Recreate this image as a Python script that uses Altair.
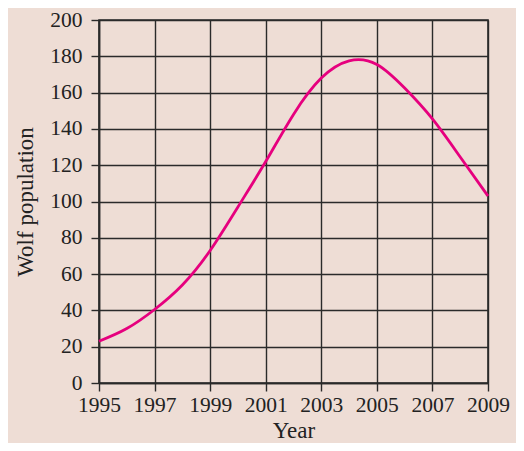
import altair as alt
import pandas as pd

years = [1995, 1996, 1997, 1998, 1999, 2000, 2001, 2002, 2003, 2004, 2005, 2006, 2007, 2008, 2009]
wolves = [23, 30, 40.5, 54, 73, 97, 122, 148, 168, 177.5, 175.5, 162.5, 145.5, 124.5, 103]
x_ticks = [1995, 1997, 1999, 2001, 2003, 2005, 2007, 2009]
y_ticks = [0, 20, 40, 60, 80, 100, 120, 140, 160, 180, 200]

df = pd.DataFrame({"Year": years, "Wolves": wolves})

FONT = "Liberation Serif"
BG = "#eeddd5"
INK = "#2a2a2a"

chart = alt.Chart(df).mark_line(
    color="#e6007e", strokeWidth=2.8, interpolate="natural"
).encode(
    x=alt.X("Year:Q",
            scale=alt.Scale(domain=[1995, 2009], nice=False, zero=False),
            axis=alt.Axis(values=x_ticks, format="d", title="Year",
                          grid=True, gridColor=INK, gridWidth=1.4, gridOpacity=1,
                          tickColor=INK, tickWidth=1.4, tickSize=8,
                          domainColor=INK, domainWidth=1.6,
                          labelFont=FONT, labelFontSize=21.5, labelColor="#222",
                          labelPadding=3, labelFlush=False,
                          titleFont=FONT, titleFontSize=23, titleFontWeight="normal",
                          titleColor="#222", titlePadding=4)),
    y=alt.Y("Wolves:Q",
            scale=alt.Scale(domain=[0, 200], nice=False),
            axis=alt.Axis(values=y_ticks, title="Wolf population",
                          grid=True, gridColor=INK, gridWidth=1.4, gridOpacity=1,
                          tickColor=INK, tickWidth=1.4, tickSize=8,
                          domainColor=INK, domainWidth=1.6,
                          labelFont=FONT, labelFontSize=21.5, labelColor="#222",
                          labelPadding=9, labelFlush=False,
                          titleFont=FONT, titleFontSize=23, titleFontWeight="normal",
                          titleColor="#222", titlePadding=12)),
).properties(
    width=389, height=363,
    autosize=alt.AutoSizeParams(type="none"),
    padding={"left": 91, "top": 12, "right": 28, "bottom": 60},
).configure(
    background=BG
).configure_view(
    stroke=INK, strokeWidth=1.6
)

chart.save("out.html", embed_options={"renderer": "svg", "actions": False})
